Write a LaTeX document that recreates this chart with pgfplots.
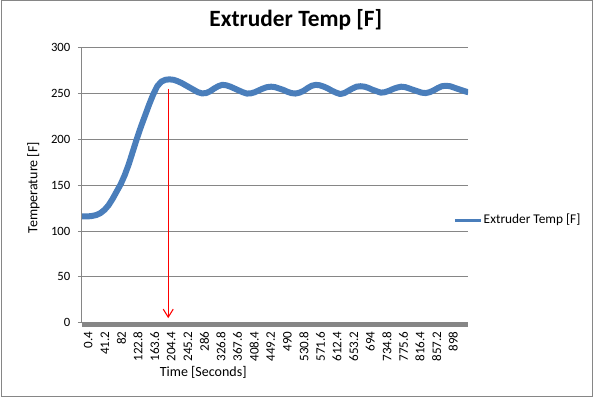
\documentclass[border=0pt]{standalone}
\usepackage{pgfplots}
\pgfplotsset{compat=1.18}
\usepackage{fontspec}
\setmainfont{Carlito}
\usetikzlibrary{arrows.meta}
\definecolor{xlblue}{RGB}{74,126,187}
\definecolor{gridgray}{RGB}{134,134,134}
\begin{document}
\begin{tikzpicture}
\useasboundingbox (0,0) rectangle (445.5pt,299.25pt);
\draw[gridgray, line width=0.75pt] (0.9pt,1.7pt) rectangle (444pt,298.5pt);
\begin{axis}[
  at={(61.5pt,57.2pt)}, anchor=south west,
  width=289.5pt, height=206.25pt, scale only axis,
  xmin=-15.1, xmax=934.3, ymin=0, ymax=300,
  clip mode=individual,
  axis x line*=bottom, axis y line*=left,
  x axis line style={draw=none},
  y axis line style={gridgray, line width=0.75pt, -},
  ytick={0,50,...,300},
  ymajorgrids, grid style={gridgray, line width=0.75pt},
  tick align=outside, major tick length=3pt,
  ytick style={gridgray, line width=0.75pt},
  xtick style={draw=none},
  xtick={0.4,41.2,82,122.8,163.6,204.4,245.2,286,326.8,367.6,408.4,449.2,490,530.8,571.6,612.4,653.2,694,734.8,775.6,816.4,857.2,898},
  xticklabels={0.4,41.2,82,122.8,163.6,204.4,245.2,286,326.8,367.6,408.4,449.2,490,530.8,571.6,612.4,653.2,694,734.8,775.6,816.4,857.2,898},
  /pgf/number format/assume math mode=true,
  yticklabel style={font=\fontsize{9.5}{11}\selectfont, anchor=east, inner sep=0pt, xshift=-5.6pt},
  xticklabel style={font=\fontsize{9.8}{11}\selectfont, yshift=-3.5pt, rotate=90, anchor=east, inner sep=0pt},
  title={Extruder Temp [F]},
  title style={font=\fontsize{17.5}{20}\bfseries, at={(axis description cs:0.554,1)}, anchor=base, yshift=10pt},
  xlabel={Time [Seconds]},
  xlabel style={font=\fontsize{10.5}{12}\selectfont, at={(axis description cs:0.314,-0.179)}, anchor=center},
  ylabel={Temperature [F]},
  ylabel style={font=\fontsize{10.5}{12}\selectfont, at={(axis description cs:-0.126,0.491)}, anchor=center},
  legend style={at={(axis description cs:0.961,0.373)}, anchor=west, draw=none, fill=none, inner sep=0pt, nodes={inner sep=1pt}, font=\fontsize{10}{12}\selectfont},
  legend cell align=left,
  legend image code/.code={\draw[#1, line width=2.4pt] (0pt,0pt) -- (19.5pt,0pt);},
]
\addplot[xlblue, line width=4.5pt, line join=round] coordinates {
(-15,116) (0,116) (10,116.5) (20,117.5) (30,119.5) (40,123) (50,128) (60,135) (70,143) (80,151)
(90,161) (100,173) (110,187) (120,201) (130,214) (140,226) (150,238) (160,249) (170,258)
(180,263) (190,265) (200,265.5) (210,265) (220,263.5) (230,261.5) (240,259) (250,256.5) (260,254)
(270,251.5) (280,250.2) (290,250.5) (300,252.5) (310,255.5) (320,258) (330,259.5) (340,259)
(350,257.5) (360,255.5) (370,253.5) (380,251.5) (390,250) (400,250.2) (410,251.5) (420,253.5)
(430,255.5) (440,257) (450,257.5) (460,257) (470,255.5) (480,254) (490,252) (500,250.5) (510,250)
(520,251) (530,253) (540,256) (550,258.5) (560,259.5) (570,259) (580,257.5) (590,255.5) (600,253)
(610,251) (620,249.5) (630,250.5) (640,253) (650,255.5) (660,257.5) (670,258) (680,257.5) (690,256)
(700,254) (710,252.5) (720,251) (730,251.5) (740,253) (750,255) (760,256.5) (770,257.5) (780,257)
(790,255.5) (800,254) (810,252.5) (820,251) (830,250.5) (840,251.5) (850,253.5) (860,256) (870,258)
(880,258.5) (890,258) (900,256.5) (910,255) (920,253.5) (930,252) (935,251.5)
};
\addlegendentry{Extruder Temp [F]}
\draw[draw=gridgray, line width=3pt] ([yshift=-1.5pt]axis cs:-15.1,0) -- ([yshift=-1.5pt]axis cs:934.3,0);
\draw[draw=red, line width=0.8pt, -{Straight Barb[length=6pt,width=7.5pt]}] (axis cs:197,255) -- (axis cs:197,5);
\end{axis}
\end{tikzpicture}
\end{document}
